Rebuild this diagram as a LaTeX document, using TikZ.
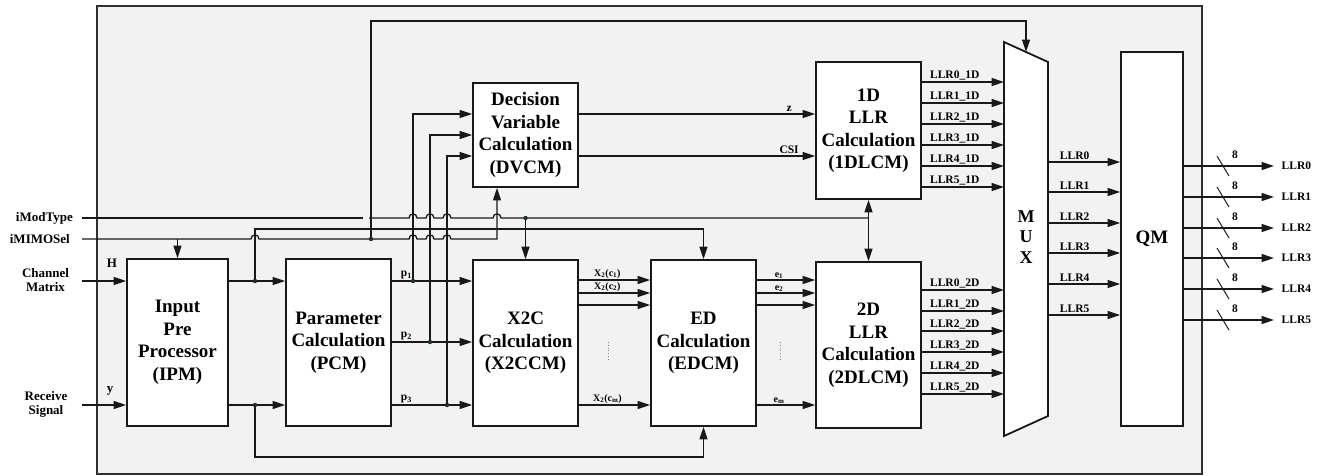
\documentclass[tikz,border=0pt]{standalone}
\usepackage{fontspec}
\setmainfont{Liberation Serif}
\usetikzlibrary{arrows.meta,calc}
\definecolor{framegray}{RGB}{242,242,242}
\definecolor{ink}{RGB}{25,25,25}
\definecolor{dotc}{RGB}{20,55,30}
\tikzset{
  blk/.style={draw=ink, line width=1.8pt, fill=white, align=center, inner sep=2pt,
    font=\bfseries\fontsize{19}{22.5}\selectfont},
  wire/.style={draw=ink, line width=1.3pt},
  arr/.style={wire, -{Triangle[length=12.5pt,width=8pt]}},
  darr/.style={wire, {Triangle[length=12.5pt,width=8pt]}-{Triangle[length=12.5pt,width=8pt]}},
  sig/.style={font=\bfseries\fontsize{13}{14.7}\selectfont, align=center, inner sep=0pt},
  lab/.style={font=\bfseries\fontsize{11.5}{13}\selectfont, inner sep=1.5pt},
  sublab/.style={font=\bfseries\fontsize{10}{12}\selectfont, inner sep=0.8pt},
  hop/.style 2 args={insert path={-- ($(#1 |- #2)+(-4,0)$) .. controls ($(#1 |- #2)+(-4,-5.5)$) and ($(#1 |- #2)+(4,-5.5)$) .. ($(#1 |- #2)+(4,0)$)}},
}
\begin{document}
\begin{tikzpicture}[x=1pt,y=-1pt]
\useasboundingbox (0,0) rectangle (1327,475);
% frame
\draw[fill=framegray, draw=ink!90, line width=1.6pt] (97,6) rectangle (1202,474);

% blocks
\node[blk, minimum width=101pt, minimum height=167pt] (ipm) at (177.5,342.5) {Input\\Pre\\Processor\\(IPM)};
\node[blk, minimum width=105pt, minimum height=167pt] (pcm) at (338.5,342.5) {Parameter\\Calculation\\(PCM)};
\node[blk, minimum width=105pt, minimum height=104pt] (dvcm) at (525.5,135) {Decision\\Variable\\Calculation\\(DVCM)};
\node[blk, minimum width=105pt, minimum height=166pt] (x2c) at (525.5,343) {X2C\\Calculation\\(X2CCM)};
\node[blk, minimum width=105pt, minimum height=166pt] (ed) at (703.5,343) {ED\\Calculation\\(EDCM)};
\node[blk, minimum width=105pt, minimum height=137pt] (d1) at (868.5,130.5) {1D\\LLR\\Calculation\\(1DLCM)};
\node[blk, minimum width=105pt, minimum height=166pt] (d2) at (868.5,345) {2D\\LLR\\Calculation\\(2DLCM)};
\node[blk, minimum width=62pt, minimum height=374pt] (qm) at (1152,239) {QM};

% MUX
\coordinate (mtl) at (1004,42);
\coordinate (mtr) at (1048,62);
\coordinate (mbr) at (1048,416);
\coordinate (mbl) at (1004,436);
\draw[draw=ink, line width=1.8pt, fill=white, line join=miter] (mtl) -- (mtr) -- (mbr) -- (mbl) -- cycle;
\node[font=\bfseries\fontsize{18}{20.5}\selectfont, align=center, inner sep=0pt] (muxt) at (1026,237) {M\\U\\X};
\coordinate (muxL) at (1004,239);
\coordinate (muxR) at (1048,239);
\coordinate (muxS) at (1026,52);
\coordinate (outR) at (1274,239);

% left signal labels
\node[sig, anchor=east] (lmod) at (73,218) {iModType};
\node[sig, anchor=east] (lmimo) at (70,239) {iMIMOSel};
\node[sig] (lch) at (45.5,280) {Channel\\Matrix};
\node[sig] (lrx) at (46,404.5) {Receive\\Signal};
\node[sig] (lh) at (112,263) {H};
\node[sig] (ly) at (110,391) {y};

\coordinate (mod0) at (82,218);
\coordinate (mimo0) at (82,239);
\coordinate (ch0) at (82,281);
\coordinate (rx0) at (82,405);

% key junctions
\coordinate (dA) at (255,281);
\coordinate (dB) at (255,405);
\coordinate (tA) at (255,229);
\coordinate (tB) at (255,457);
\coordinate (dS) at (371,239);
\coordinate (tS) at (371,21);
\coordinate (dp1) at (413,281);
\coordinate (dp2) at (430,342);
\coordinate (dp3) at (447,405);
\coordinate (kS) at (497,239);
\coordinate (g1) at (363,218);
\coordinate (g2) at (369,218);

% inputs
\draw[arr] (ch0) -- (ipm.west |- ch0);
\draw[arr] (rx0) -- (ipm.west |- rx0);

% IPM -> PCM
\draw[arr] (ipm.east |- dA) -- (pcm.west |- dA);
\draw[arr] (ipm.east |- dB) -- (pcm.west |- dB);
\draw[arr] (dA) -- (tA) -| (ed.north);
\draw[arr] (dB) -- (tB) -| (ed.south);

% iMIMOSel
\draw[arr] (mimo0) [hop={dA}{mimo0}] [hop={dp1}{mimo0}] [hop={dp2}{mimo0}] [hop={dp3}{mimo0}] -- (kS) -- (kS |- dvcm.south);
\draw[arr] (ipm.north |- mimo0) -- (ipm.north);
\draw[arr] (dS) -- (tS) -| (muxS);

% iModType
\draw[wire] (mod0) -- (g1);
\draw[wire] (g2) [hop={dp1}{mod0}] [hop={dp2}{mod0}] [hop={dp3}{mod0}] [hop={kS}{mod0}] -- (d1.south |- mod0);
\draw[arr] (x2c.north |- mod0) -- (x2c.north);
\draw[darr] (d1.south) -- (d2.north);

% PCM outputs
\draw[arr] (pcm.east |- dp1) -- (x2c.west |- dp1) node[lab, pos=0.18, above] {p\textsubscript{1}};
\draw[arr] (pcm.east |- dp2) -- (x2c.west |- dp2) node[lab, pos=0.18, above] {p\textsubscript{2}};
\draw[arr] (pcm.east |- dp3) -- (x2c.west |- dp3) node[lab, pos=0.18, above] {p\textsubscript{3}};
\draw[arr] (dp1) |- ([yshift=21pt]dvcm.west);
\draw[arr] (dp2) |- (dvcm.west);
\draw[arr] (dp3) |- ([yshift=-21pt]dvcm.west);

% DVCM outputs
\coordinate (zs) at ([yshift=21pt]dvcm.east);
\coordinate (cs) at ([yshift=-21pt]dvcm.east);
\draw[arr] (zs) -- (d1.west |- zs) node[lab, pos=0.89, above] {z};
\draw[arr] (cs) -- (d1.west |- cs) node[lab, pos=0.89, above] {CSI};

% X2C -> ED
\draw[arr] (x2c.east |- 0,280) -- (ed.west |- 0,280) node[sublab, pos=0.4, above] {X\textsubscript{2}(c\textsubscript{1})};
\draw[arr] (x2c.east |- 0,293) -- (ed.west |- 0,293) node[sublab, pos=0.4, above] {X\textsubscript{2}(c\textsubscript{2})};
\draw[arr] (x2c.east |- 0,305) -- (ed.west |- 0,305);
\draw[arr] (x2c.east |- 0,405) -- (ed.west |- 0,405) node[sublab, pos=0.4, above] {X\textsubscript{2}(c\textsubscript{m})};
\draw[gray, dotted, line width=0.8pt] (608,342) -- (608,359);

% ED -> 2D
\draw[arr] (ed.east |- 0,280) -- (d2.west |- 0,280) node[sublab, pos=0.38, above] {e\textsubscript{1}};
\draw[arr] (ed.east |- 0,293) -- (d2.west |- 0,293) node[sublab, pos=0.38, above] {e\textsubscript{2}};
\draw[arr] (ed.east |- 0,305) -- (d2.west |- 0,305);
\draw[arr] (ed.east |- 0,405) -- (d2.west |- 0,405) node[sublab, pos=0.38, above] {e\textsubscript{m}};
\draw[gray, dotted, line width=0.8pt] (780,342) -- (780,359);

% 1D / 2D -> MUX
\foreach \k/\yy in {0/82,1/103,2/124,3/145,4/166,5/187}
  \draw[arr] (d1.east |- 0,\yy) -- (muxL |- 0,\yy) node[lab, pos=0.4, above] {LLR\k\_1D};
\foreach \k/\yy in {0/290,1/311,2/331,3/352,4/373,5/394}
  \draw[arr] (d2.east |- 0,\yy) -- (muxL |- 0,\yy) node[lab, pos=0.4, above] {LLR\k\_2D};

% MUX -> QM
\foreach \k/\yy in {0/162,1/192,2/223,3/253,4/284,5/315}
  \draw[arr] (muxR |- 0,\yy) -- (qm.west |- 0,\yy) node[lab, pos=0.37, above] {LLR\k};

% QM outputs
\foreach \k/\yy in {0/166,1/197,2/228,3/258,4/289,5/320}{
  \draw[arr] (qm.east |- 0,\yy) -- (outR |- 0,\yy) node[lab, right=7pt, inner sep=0pt] {LLR\k};
  \draw[draw=ink, line width=1pt] (1217,\yy-10) -- (1229,\yy+10);
  \node[lab] at (1235,\yy-11) {8};
}

% junction dots
\foreach \p in {dA,dB,dS,dp1,dp2,dp3}
  \fill[dotc] (\p) circle[radius=2.2pt];
\fill[dotc] (x2c.north |- mod0) circle[radius=2.2pt];
\end{tikzpicture}
\end{document}
